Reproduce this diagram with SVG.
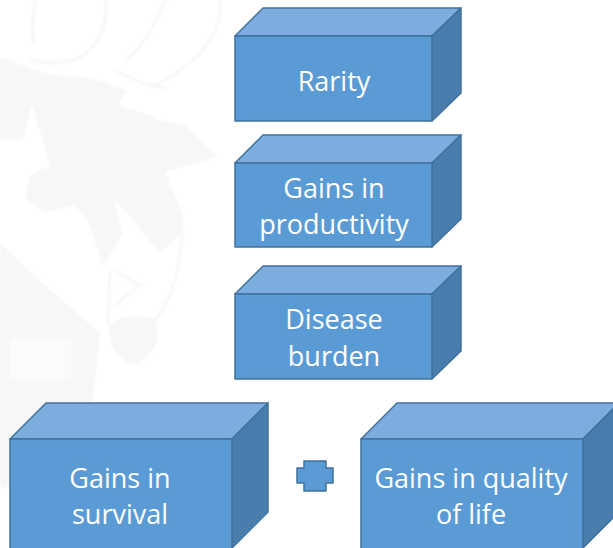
<svg xmlns="http://www.w3.org/2000/svg" width="613" height="548" viewBox="0 0 613 548">
<defs><filter id="soft" x="-5%" y="-5%" width="110%" height="110%"><feGaussianBlur stdDeviation="1.2"/></filter></defs>
<style>
.front{fill:#5b9bd5}
.top{fill:#7cadde}
.side{fill:#497dad}
.edge{stroke:#41719c;stroke-width:1.5;stroke-linejoin:round}
text{font-family:"Open Sans","Noto Sans",sans-serif;font-size:27px;fill:#fff;text-anchor:middle}
.wm{fill:#f7f7f7}
.wl{fill:none;stroke:#f7f7f7;stroke-width:3}
</style>
<rect width="613" height="548" fill="#fff"/>
<g id="watermark" filter="url(#soft)">
<path class="wm" d="M0 57L50 75L90 78L127 90L118 105L150 115L157 120L185 125L217 157L165 172L183 215L183 232L160 253L113 197L123 233L103 267L90 225L75 205L45 212L25 198L30 175L50 165L32 105L22 140L0 140Z"/>
<path class="wm" d="M0 243L50 290L100 333L93 400L75 460L20 480L0 490Z"/>
<path class="wm" d="M108 325Q130 310 155 320Q165 350 135 365Q110 360 108 325Z"/>
<path class="wl" d="M35 0Q30 30 35 45M105 0Q110 30 85 55Q60 68 30 60M165 0Q150 40 125 62M220 0Q225 50 150 88M115 70Q140 85 165 88M115 270L140 285L115 305M182 230Q180 290 155 320M110 270L108 325"/>
<rect x="10" y="338" width="62" height="42" fill="#fbfbfb"/>
</g>
<g id="connectors"></g>
<g id="node-rarity">
<path class="top edge" d="M235 36L263 8H461L432 36Z"/>
<path class="side edge" d="M432 36L461 8V93L432 121Z"/>
<rect class="front edge" x="235" y="36" width="197" height="85"/>
<text x="334" y="91">Rarity</text>
</g>
<g id="node-productivity">
<path class="top edge" d="M235 163L263 135H461L432 163Z"/>
<path class="side edge" d="M432 163L461 135V219L432 247Z"/>
<rect class="front edge" x="235" y="163" width="197" height="84"/>
<text x="334" y="198">Gains in</text>
<text x="334" y="234">productivity</text>
</g>
<g id="node-burden">
<path class="top edge" d="M235 294L263 266H461L432 294Z"/>
<path class="side edge" d="M432 294L461 266V351L432 379Z"/>
<rect class="front edge" x="235" y="294" width="197" height="85"/>
<text x="334" y="329">Disease</text>
<text x="334" y="366">burden</text>
</g>
<g id="node-survival">
<path class="top edge" d="M10 439L46 403H268L232 439Z"/>
<path class="side edge" d="M232 439L268 403V512L232 548Z"/>
<rect class="front edge" x="10" y="439" width="222" height="120"/>
<text x="120" y="488">Gains in</text>
<text x="120" y="524">survival</text>
</g>
<g id="plus-sign">
<path class="front edge" d="M304 461H326V468H333V483H326V491H304V483H297V468H304Z"/>
</g>
<g id="node-quality">
<path class="top edge" d="M361 439L397 403H619L583 439Z"/>
<path class="side edge" d="M583 439L619 403V512L583 548Z"/>
<rect class="front edge" x="361" y="439" width="222" height="120"/>
<text x="471" y="488">Gains in quality</text>
<text x="471" y="524">of life</text>
</g>
</svg>
